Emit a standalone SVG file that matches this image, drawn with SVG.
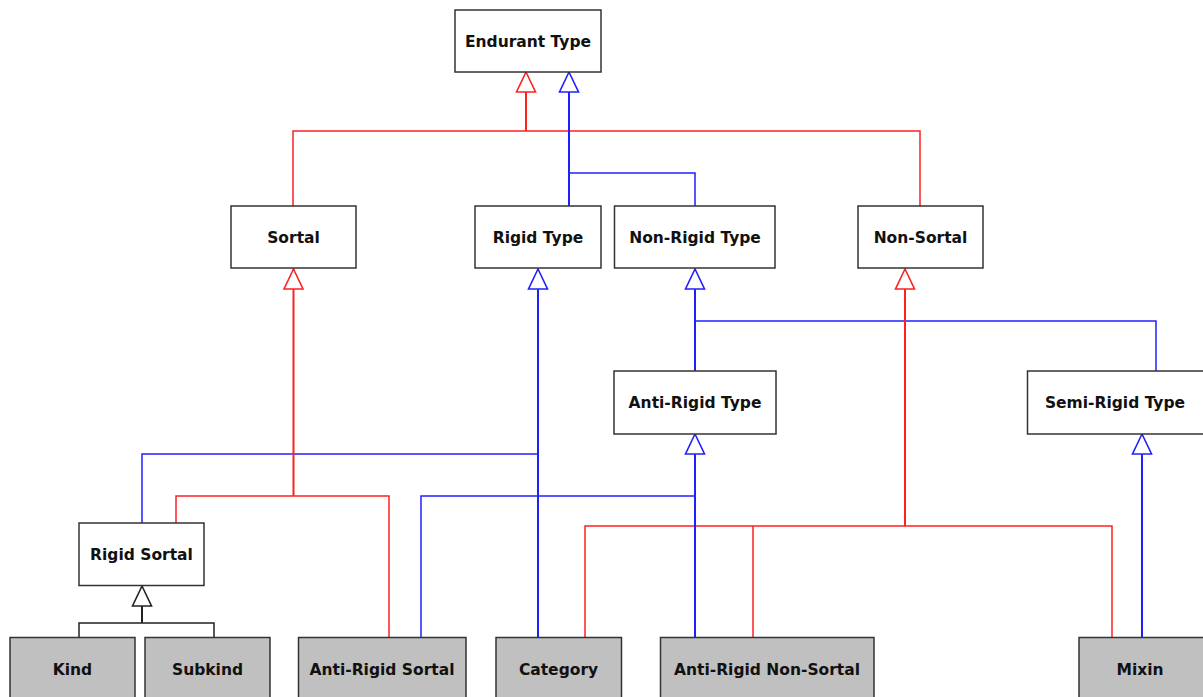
<svg xmlns="http://www.w3.org/2000/svg" width="1203" height="697" viewBox="0 0 1203 697">
<style>
.node rect{fill:#fff;stroke:#333;stroke-width:1.5}
.leaf rect{fill:#c0c0c0;stroke:#333;stroke-width:1.5}
text{font-family:"DejaVu Sans","Liberation Sans",sans-serif;font-weight:bold;font-size:15.5px;fill:#111;text-anchor:middle}
.r{stroke:#ff2020;fill:none}
.b{stroke:#2020ff;fill:none}
.k{stroke:#222;fill:none}
.br{stroke-width:1.5}
.tr{stroke-width:2}
</style>
<defs>
<marker id="ar" markerUnits="userSpaceOnUse" markerWidth="24" markerHeight="24" viewBox="0 0 24 24" refX="22" refY="12" orient="auto"><path d="M22,12 L2,2.5 L2,21.5 Z" fill="#fff" stroke="#ff2020" stroke-width="1.6"/></marker>
<marker id="ab" markerUnits="userSpaceOnUse" markerWidth="24" markerHeight="24" viewBox="0 0 24 24" refX="22" refY="12" orient="auto"><path d="M22,12 L2,2.5 L2,21.5 Z" fill="#fff" stroke="#2020ff" stroke-width="1.6"/></marker>
<marker id="ak" markerUnits="userSpaceOnUse" markerWidth="24" markerHeight="24" viewBox="0 0 24 24" refX="22" refY="12" orient="auto"><path d="M22,12 L2,2.5 L2,21.5 Z" fill="#fff" stroke="#222" stroke-width="1.6"/></marker>
</defs>
<g id="connectors">
<path class="r br" d="M293,206 V131 H920 V206"/>
<path class="b br" d="M569,173 H695 V206"/>
<path class="r br" d="M176,523 V496 H389 V637"/>
<path class="b br" d="M142,523 V454 H538"/>
<path class="b br" d="M695,321 H1156 V371"/>
<path class="b br" d="M421,637 V496 H695"/>
<path class="r br" d="M585,637 V526 H1112 V637"/>
<path class="r br" d="M753,637 V526"/>
<path class="k br" d="M79,637 V623 H214 V637"/>
<path class="r tr" d="M526,131 V72" marker-end="url(#ar)"/>
<path class="b tr" d="M569,206 V72" marker-end="url(#ab)"/>
<path class="r tr" d="M293.5,496 V269" marker-end="url(#ar)"/>
<path class="b tr" d="M538,637 V269" marker-end="url(#ab)"/>
<path class="b tr" d="M695,371 V269" marker-end="url(#ab)"/>
<path class="r tr" d="M905,526 V269" marker-end="url(#ar)"/>
<path class="b tr" d="M695,637 V434" marker-end="url(#ab)"/>
<path class="b tr" d="M1142,637 V434" marker-end="url(#ab)"/>
<path class="k tr" d="M142,623 V586" marker-end="url(#ak)"/>
</g>
<g id="endurant-type" class="node"><rect x="455" y="10" width="146" height="62"/><text x="528" y="46.5">Endurant Type</text></g>
<g id="sortal" class="node"><rect x="231" y="206" width="125" height="62"/><text x="293.5" y="242.5">Sortal</text></g>
<g id="rigid-type" class="node"><rect x="475" y="206" width="126" height="62"/><text x="538" y="242.5">Rigid Type</text></g>
<g id="non-rigid-type" class="node"><rect x="614.5" y="206" width="160.5" height="62"/><text x="695" y="242.5">Non-Rigid Type</text></g>
<g id="non-sortal" class="node"><rect x="858" y="206" width="125" height="62"/><text x="920.5" y="242.5">Non-Sortal</text></g>
<g id="anti-rigid-type" class="node"><rect x="614" y="371" width="162" height="63"/><text x="695" y="408">Anti-Rigid Type</text></g>
<g id="semi-rigid-type" class="node"><rect x="1027.5" y="371" width="177" height="63"/><text x="1115" y="408">Semi-Rigid Type</text></g>
<g id="rigid-sortal" class="node"><rect x="79" y="523" width="125" height="62.5"/><text x="141.5" y="560">Rigid Sortal</text></g>
<g id="kind" class="leaf"><rect x="10" y="637.5" width="125" height="63"/><text x="72.5" y="675">Kind</text></g>
<g id="subkind" class="leaf"><rect x="145" y="637.5" width="125" height="63"/><text x="207.5" y="675">Subkind</text></g>
<g id="anti-rigid-sortal" class="leaf"><rect x="298.5" y="637.5" width="167.5" height="63"/><text x="382" y="675">Anti-Rigid Sortal</text></g>
<g id="category" class="leaf"><rect x="496" y="637.5" width="125.5" height="63"/><text x="558.5" y="675">Category</text></g>
<g id="anti-rigid-non-sortal" class="leaf"><rect x="660.5" y="637.5" width="213.5" height="63"/><text x="767" y="675">Anti-Rigid Non-Sortal</text></g>
<g id="mixin" class="leaf"><rect x="1079" y="637.5" width="126" height="63"/><text x="1140" y="675">Mixin</text></g>
</svg>
